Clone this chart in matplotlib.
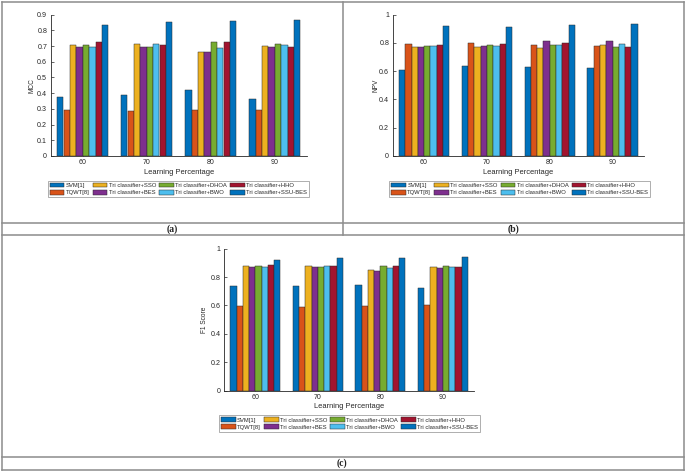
import matplotlib
matplotlib.use("Agg")
import matplotlib.pyplot as plt
from matplotlib.patches import Patch
from matplotlib.lines import Line2D
import numpy as np

plt.rcParams['font.family'] = ['Liberation Sans', 'DejaVu Sans']

groups = ["60", "70", "80", "90"]
series = ["SVM[1]", "TQWT[8]", "Tri classifier+SSO", "Tri classifier+BES",
          "Tri classifier+DHOA", "Tri classifier+BWO", "Tri classifier+HHO",
          "Tri classifier+SSU-BES"]
colors = ["#0072BD", "#D95319", "#EDB120", "#7E2F8E", "#77AC30", "#4DBEEE",
          "#A2142F", "#0072BD"]

# rows = series, columns = learning percentage 60,70,80,90
mcc = [
    [0.376, 0.388, 0.418, 0.365],
    [0.291, 0.289, 0.295, 0.291],
    [0.709, 0.713, 0.660, 0.700],
    [0.696, 0.696, 0.660, 0.692],
    [0.709, 0.696, 0.724, 0.711],
    [0.696, 0.715, 0.690, 0.705],
    [0.724, 0.709, 0.728, 0.694],
    [0.832, 0.851, 0.858, 0.868],
]
npv = [
    [0.606, 0.634, 0.630, 0.623],
    [0.792, 0.800, 0.785, 0.776],
    [0.774, 0.774, 0.767, 0.783],
    [0.774, 0.778, 0.816, 0.814],
    [0.781, 0.785, 0.785, 0.769],
    [0.781, 0.781, 0.783, 0.795],
    [0.785, 0.790, 0.797, 0.771],
    [0.917, 0.915, 0.929, 0.934],
]
f1 = [
    [0.735, 0.735, 0.746, 0.725],
    [0.594, 0.587, 0.596, 0.606],
    [0.876, 0.878, 0.852, 0.871],
    [0.871, 0.871, 0.845, 0.866],
    [0.876, 0.871, 0.878, 0.878],
    [0.871, 0.878, 0.861, 0.873],
    [0.883, 0.876, 0.878, 0.871],
    [0.923, 0.937, 0.937, 0.941],
]

W, H = 685, 471
fig = plt.figure(figsize=(W / 100, H / 100), dpi=100)
fig.patch.set_facecolor("white")

def fx(px):
    return px / W

def fy(py):
    return 1 - py / H

TXT = "#262626"

def panel(rect, data, ylabel, ylim, yticks, yticklabels, leg_xy, xlab_y, ylab_x):
    l, t, r, b = rect
    ax = fig.add_axes([fx(l), fy(b), fx(r - l), (b - t) / H])
    x = np.arange(1, len(groups) + 1)
    n = len(series)
    bw = 0.1
    for i in range(n):
        ax.bar(x + (i - (n - 1) / 2) * bw, data[i], width=bw, color=colors[i],
               edgecolor="#2a2a2a", linewidth=0.35, label=series[i], zorder=2)
    ax.set_xlim(0.5, 4.5)
    ax.set_ylim(*ylim)
    ax.set_xticks(x)
    ax.set_xticklabels(groups)
    ax.set_yticks(yticks)
    ax.set_yticklabels(yticklabels)
    for s in ["top", "right"]:
        ax.spines[s].set_visible(False)
    for s in ["left", "bottom"]:
        ax.spines[s].set_linewidth(0.6)
        ax.spines[s].set_color(TXT)
    ax.tick_params(direction="in", length=2.2, width=0.5, labelsize=5.1,
                   colors=TXT, pad=2.5)
    ax.set_xlabel("Learning Percentage", fontsize=5.4, color=TXT)
    ax.xaxis.set_label_coords(0.5, (b - xlab_y) / (b - t))
    ax.set_ylabel(ylabel, fontsize=4.7, color=TXT)
    ax.yaxis.set_label_coords((ylab_x - l) / (r - l), 0.5)
    handles = [Patch(facecolor=colors[i], edgecolor="#2a2a2a", linewidth=0.35)
               for i in range(n)]
    leg = fig.legend(handles, series, loc="upper left",
                     bbox_to_anchor=(fx(leg_xy[0]), fy(leg_xy[1])),
                     ncol=4, fontsize=4.2, frameon=True, fancybox=False,
                     handlelength=2.5, handleheight=0.85, handletextpad=0.22,
                     columnspacing=0.55, labelspacing=0.3, borderpad=0.35,
                     borderaxespad=0)
    leg.get_frame().set_edgecolor("#8a8a8a")
    leg.get_frame().set_linewidth(0.6)
    for tx in leg.get_texts():
        tx.set_color(TXT)
    return ax

panel((50.7, 14.7, 306.7, 156), mcc, "MCC", (0, 0.9),
      np.arange(0, 0.91, 0.1), ["0", "0.1", "0.2", "0.3", "0.4", "0.5", "0.6", "0.7", "0.8", "0.9"],
      (47.7, 180.8), 169.0, 36)
panel((392.7, 14.7, 644, 156), npv, "NPV", (0, 1),
      np.arange(0, 1.01, 0.2), ["0", "0.2", "0.4", "0.6", "0.8", "1"],
      (389.3, 180.8), 169.0, 379)
panel((224, 248.7, 474, 390.7), f1, "F1 Score", (0, 1),
      np.arange(0, 1.01, 0.2), ["0", "0.2", "0.4", "0.6", "0.8", "1"],
      (219, 415.3), 403.0, 208)

# frame lines of the figure layout
LC = "#8c8c8c"
LW = 1.1
def hline(y, x0, x1):
    fig.add_artist(Line2D([fx(x0), fx(x1)], [fy(y), fy(y)], color=LC, lw=LW))
def vline(x, y0, y1):
    fig.add_artist(Line2D([fx(x), fx(x)], [fy(y0), fy(y1)], color=LC, lw=LW))

hline(1.5, 1.5, 683.5)
hline(222.7, 1.5, 683.5)
hline(235, 1.5, 683.5)
hline(456.7, 1.5, 683.5)
hline(469.8, 1.5, 683.5)
vline(1.5, 1.5, 469.8)
vline(683.5, 1.5, 469.8)
vline(343, 1.5, 235)

lab_font = dict(family=["Liberation Serif", "DejaVu Serif"], fontsize=7,
                fontweight="bold", color="#222222", ha="center", va="center")
fig.text(fx(172), fy(229), "(a)", **lab_font)
fig.text(fx(513), fy(229), "(b)", **lab_font)
fig.text(fx(342), fy(463.5), "(c)", **lab_font)

fig.savefig("out.png", dpi=100, facecolor="white")
